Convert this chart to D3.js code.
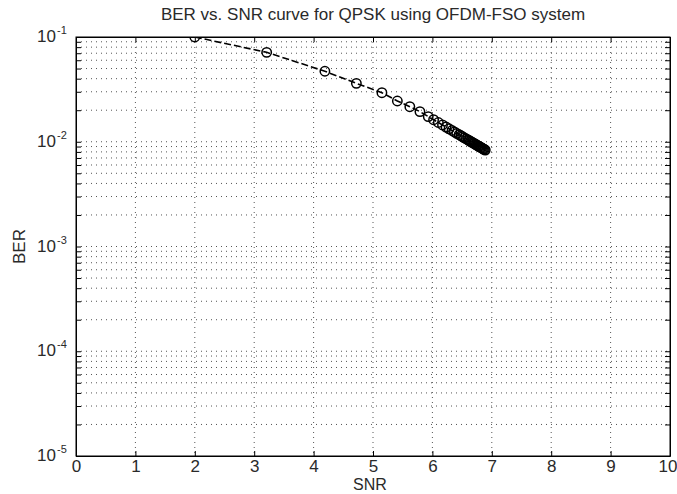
<!DOCTYPE html>
<html lang="en">
<head>
  <meta charset="UTF-8">
  <title>BER vs. SNR</title>
  <script src="https://d3js.org/d3.v7.min.js"></script>
  <style>
    body { margin: 0; background: #fff; }
    text { font-family: "Liberation Sans", Arial, sans-serif; fill: #2a2a2a; }
    .grid line { stroke: #555; stroke-width: 1; stroke-dasharray: 1,4; }
    .axis path, .axis line { stroke: #000; }
    .axis text { font-size: 17px; }
  </style>
</head>
<body>
  <svg id="chart" width="677" height="494"></svg>

  <script>
    // values
    const snr = [2.00, 3.21, 4.19, 4.72, 5.15, 5.41, 5.62, 5.79, 5.93, 6.02, 6.10, 6.17, 6.23,
                 6.28, 6.33, 6.37, 6.41, 6.45, 6.48, 6.51, 6.54, 6.57, 6.60, 6.62, 6.64,
                 6.66, 6.68, 6.70, 6.72, 6.74, 6.755, 6.77, 6.785, 6.80, 6.815, 6.83,
                 6.845, 6.86, 6.875, 6.89];
    const ber = [0.1000, 0.0714, 0.0471, 0.0361, 0.0294, 0.0245, 0.0216, 0.0194, 0.01739, 0.01623,
                 0.01527, 0.01447, 0.01382, 0.01330, 0.01280, 0.01241, 0.01203, 0.01167, 0.01141,
                 0.01115, 0.01090, 0.01065, 0.01041, 0.01025, 0.01009, 0.00994, 0.00979, 0.00964,
                 0.00949, 0.00935, 0.00924, 0.00913, 0.00903, 0.00893, 0.00882, 0.00872, 0.00862,
                 0.00852, 0.00843, 0.00833];
    const xTicks = [0, 1, 2, 3, 4, 5, 6, 7, 8, 9, 10];
    const yTicks = [1e-5, 1e-4, 1e-3, 1e-2, 1e-1];
    const yTickExp = ["-5", "-4", "-3", "-2", "-1"];
    const yMinor = [];
    yTicks.slice(0, -1).forEach(t => [2, 3, 4, 5, 6, 7, 8, 9].forEach(m => yMinor.push(t * m)));

    const data = snr.map((s, i) => ({snr: s, ber: ber[i]}));

    const box = {left: 76, right: 670, top: 37, bottom: 456};
    const svg = d3.select("#chart");

    const x = d3.scaleLinear().domain([0, 10]).range([box.left, box.right]);
    const y = d3.scaleLog().domain([1e-5, 1e-1]).range([box.bottom, box.top]);

    // grid
    const grid = svg.append("g").attr("class", "grid");
    grid.selectAll(".gx").data(xTicks.slice(1, -1)).join("line")
      .attr("x1", d => x(d)).attr("x2", d => x(d))
      .attr("y1", box.top).attr("y2", box.bottom);
    grid.selectAll(".gy").data(yTicks.slice(1, -1).concat(yMinor)).join("line")
      .attr("x1", box.left).attr("x2", box.right)
      .attr("y1", d => y(d)).attr("y2", d => y(d));

    // axes, ticks pointing inward
    svg.append("g").attr("class", "axis")
      .attr("transform", `translate(0,${box.bottom})`)
      .call(d3.axisBottom(x).tickValues(xTicks).tickSize(-5).tickPadding(8).tickSizeOuter(0).tickFormat(d3.format("d")))
      .call(g => g.selectAll("text").attr("dy", "0.71em").attr("y", 4))
      .call(g => g.selectAll(".tick:last-of-type text").attr("text-anchor", "end").attr("x", 7));
    svg.append("g").attr("class", "axis")
      .attr("transform", `translate(0,${box.top})`)
      .call(d3.axisTop(x).tickValues(xTicks).tickSize(-5).tickSizeOuter(0).tickFormat(""));
    svg.append("g").attr("class", "axis")
      .attr("transform", `translate(${box.left},0)`)
      .call(d3.axisLeft(y).tickValues(yTicks.concat(yMinor)).tickSize(-5).tickSizeOuter(0).tickFormat(""));
    svg.append("g").attr("class", "axis")
      .attr("transform", `translate(${box.right},0)`)
      .call(d3.axisRight(y).tickValues(yTicks.concat(yMinor)).tickSize(-5).tickSizeOuter(0).tickFormat(""));

    svg.append("rect")
      .attr("x", box.left).attr("y", box.top)
      .attr("width", box.right - box.left).attr("height", box.bottom - box.top)
      .attr("fill", "none").attr("stroke", "#000").attr("stroke-width", 1);

    // y tick labels as 10 with exponent
    const yl = svg.append("g");
    yl.selectAll(".b").data(yTicks).join("text")
      .attr("x", 56).attr("y", d => y(d)).attr("dy", "0.3em")
      .attr("text-anchor", "end").attr("font-size", 17).text("10");
    yl.selectAll(".e").data(yTicks).join("text")
      .attr("x", 57).attr("y", d => y(d) - 3)
      .attr("font-size", 11).text((d, i) => yTickExp[i]);

    // curve
    svg.append("defs").append("clipPath").attr("id", "clip")
      .append("rect").attr("x", box.left).attr("y", box.top)
      .attr("width", box.right - box.left).attr("height", box.bottom - box.top);

    const plot = svg.append("g").attr("clip-path", "url(#clip)");
    plot.append("path")
      .datum(data)
      .attr("fill", "none")
      .attr("stroke", "#000")
      .attr("stroke-width", 1.6)
      .attr("stroke-dasharray", "7,3")
      .attr("d", d3.line().x(d => x(d.snr)).y(d => y(d.ber)));
    plot.selectAll("circle").data(data).join("circle")
      .attr("cx", d => x(d.snr)).attr("cy", d => y(d.ber))
      .attr("r", 4.7)
      .attr("fill", "none").attr("stroke", "#000").attr("stroke-width", 1.5);

    // titles
    svg.append("text")
      .attr("x", (box.left + box.right) / 2).attr("y", 20)
      .attr("text-anchor", "middle").attr("font-size", 17)
      .text("BER vs. SNR curve for QPSK using OFDM-FSO system");
    svg.append("text")
      .attr("x", 370).attr("y", 490)
      .attr("text-anchor", "middle").attr("font-size", 16)
      .text("SNR");
    svg.append("text")
      .attr("transform", `translate(25,${(box.top + box.bottom) / 2}) rotate(-90)`)
      .attr("text-anchor", "middle").attr("font-size", 17)
      .text("BER");
  </script>
</body>
</html>
